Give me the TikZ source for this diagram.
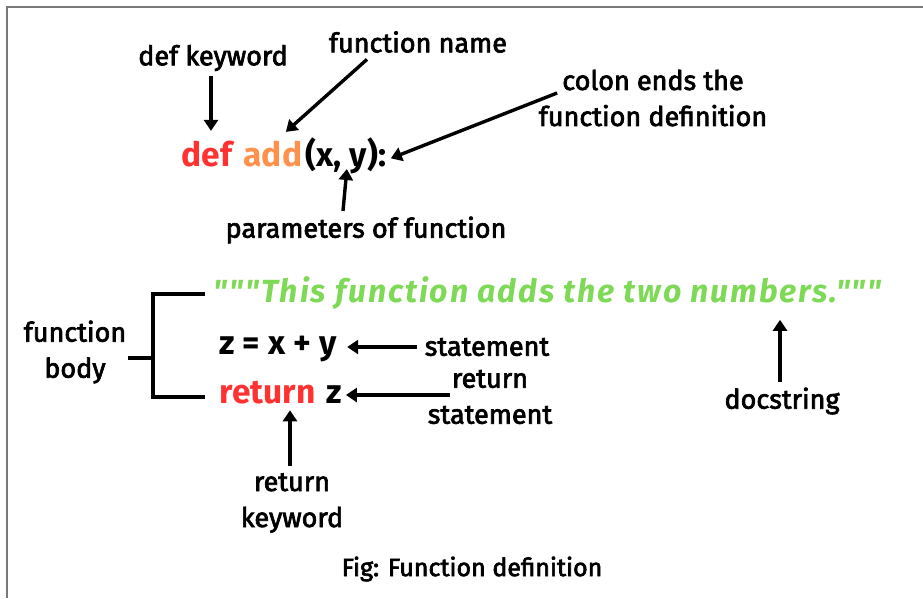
\documentclass[tikz,border=0pt]{standalone}
\usepackage{fontspec}
\setmainfont{Fira Sans}[Ligatures=TeXOff, UprightFeatures={FakeBold=2.6}]
\newfontfamily\docfont{Fira Sans}[Ligatures=TeXOff, LetterSpace=6]
\usetikzlibrary{arrows.meta}
\definecolor{defred}{RGB}{255,49,49}
\definecolor{addorange}{RGB}{255,145,77}
\definecolor{docgreen}{RGB}{126,217,87}
\definecolor{framegray}{RGB}{120,120,120}

\begin{document}
\begin{tikzpicture}[x=1pt,y=-1pt,->,>={Triangle[width=14pt,length=11pt]},line width=3.4pt,
    lbl/.style={font=\fontsize{27}{36}\selectfont,align=center,inner sep=0pt},
    code/.style={font=\fontsize{33.5}{36}\selectfont\bfseries,inner sep=0pt,anchor=base west}]

  \useasboundingbox (0,0) rectangle (923,598);
  \draw[-,framegray,line width=2.5pt] (7,598) |- (923,7);

  % def add(x, y):
  \node[code,text=defred]    (kwdef)  at (180,166)                  {def};
  \node[code,text=addorange] (fname)  at ([xshift=8pt]kwdef.base east) {add};
  \node[code]                (params) at (fname.base east)          {(x, y):};

  \node[lbl] (kwlbl)    at (213,58)  {def keyword};
  \node[lbl] (fnlbl)    at (418,42)  {function name};
  \node[lbl] (colonlbl) at (653,98)  {colon ends the\\function definition};
  \node[lbl] (paramlbl) at (366,230) {parameters of function};

  \draw[shorten <=3pt,shorten >=8pt] (kwlbl.south -| 211,0) -- (kwdef.north -| 211,0);
  \draw ([xshift=-51pt,yshift=-5pt]fnlbl.south) -- ([xshift=13pt,yshift=7pt]fname.north);
  \draw ([xshift=20pt,yshift=5pt]colonlbl.west) -- ([xshift=3pt,yshift=-3pt]params.east);
  \draw ([xshift=-23pt,yshift=4pt]paramlbl.north) -- ([xshift=43pt,yshift=-3pt]params.base west);

  % body
  \node[code,font=\fontsize{32}{36}\selectfont\docfont\bfseries\itshape,text=docgreen]
             (doc)    at (212,302) {"""This function adds the two numbers."""};
  \node[code]                (stmt)   at (218,354)                    {z = x + y};
  \node[code,text=defred]    (retkw)  at (218,403)                    {return};
  \node[code]                (retval) at ([xshift=8pt]retkw.base east) {z};

  \node[lbl] (bodylbl)  at (75,352)  {function\\body};
  \node[lbl] (stmtlbl)  at (487,347) {statement};
  \node[lbl] (retlbl)   at (490,397) {return\\statement};
  \node[lbl] (kwretlbl) at (292,503) {return\\keyword};
  \node[lbl] (doclbl)   at (782,401) {docstring};
  \node[lbl,font=\fontsize{25}{30}\selectfont] (caption) at (472,569) {Fig: Function definition};

  \coordinate (brk) at (153,358);
  \draw[-] (bodylbl.east |- brk) -- (brk);
  \draw[-] ([xshift=-7pt]doc.west |- 0,294) -| (brk) |- (205,397);

  \draw[shorten <=6pt,shorten >=9pt] (stmtlbl.west) -- (stmtlbl.west -| stmt.east);
  \draw[shorten >=2pt] (450,395) -- (retval.east |- 450,395);
  \draw[shorten <=6pt,shorten >=5pt] (kwretlbl.north -| 290,0) -- (retkw.south -| 290,0);
  \draw[shorten <=4pt,shorten >=9pt] (doclbl.north -| 780,0) -- (doc.south -| 780,0);
\end{tikzpicture}
\end{document}
